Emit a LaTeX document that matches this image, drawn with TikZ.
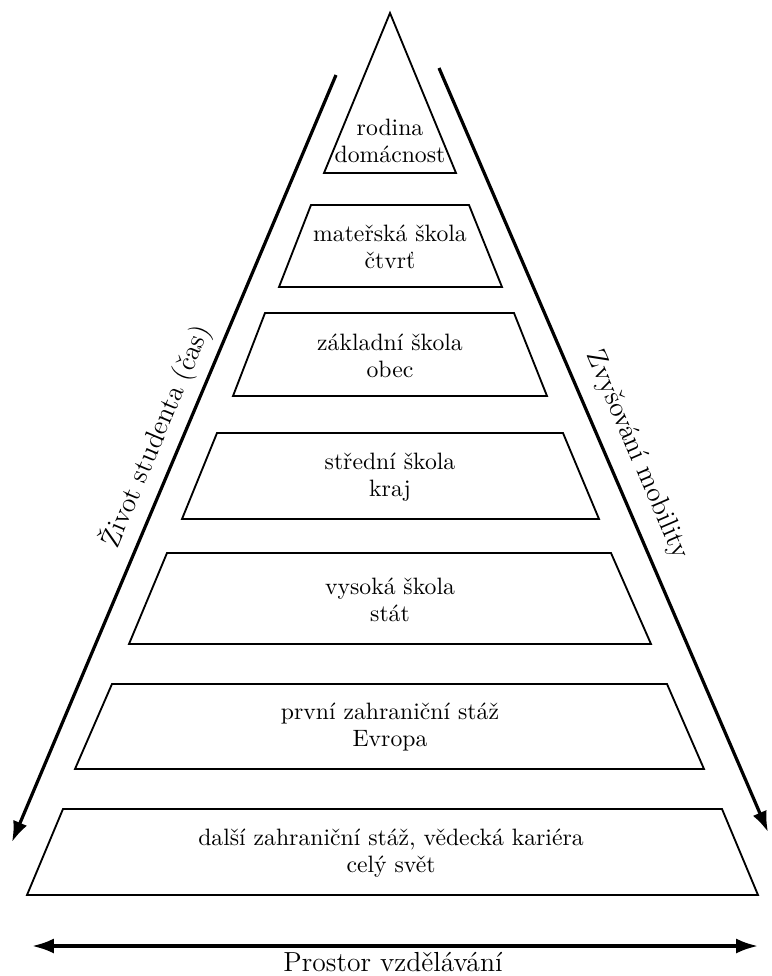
\documentclass[tikz,border=0pt]{standalone}
\usetikzlibrary{arrows.meta}
\begin{document}
\begin{tikzpicture}[x=0.4348pt,y=-0.4348pt,
  tier/.style={draw=black,line width=0.8pt,line join=miter},
  tiertext/.style={align=center,font=\fontsize{10.3}{11.8}\selectfont,text=black,inner sep=0pt},
  sidelabel/.style={font=\large,text=black,inner sep=0pt},
  bigarrow/.style={line width=1.4pt,-{Latex[length=9pt,width=6.5pt]}},
  basearrow/.style={line width=1.4pt,{Latex[length=9.5pt,width=6.5pt]}-{Latex[length=9.5pt,width=6.5pt]}}
]
\useasboundingbox (0,0) rectangle (771,976);
% tiers
\draw[tier] (390,13) -- (456,173) -- (324,173) -- cycle;
\draw[tier] (311,205) -- (469,205) -- (502,287) -- (279,287) -- cycle;
\draw[tier] (265,313) -- (514,313) -- (547,396) -- (233,396) -- cycle;
\draw[tier] (217,433) -- (563,433) -- (599,519) -- (182,519) -- cycle;
\draw[tier] (167,553) -- (611,553) -- (651,644) -- (129,644) -- cycle;
\draw[tier] (112,684) -- (667,684) -- (704,769) -- (75,769) -- cycle;
\draw[tier] (63,809) -- (722,809) -- (758,895) -- (27,895) -- cycle;
% tier texts
\node[tiertext] (t1) at (390,141) {rodina\\domácnost};
\node[tiertext] (t2) at (390,247) {mateřská škola\\čtvrť};
\node[tiertext] (t3) at (390,356) {základní škola\\obec};
\node[tiertext] (t4) at (390,477) {střední škola\\kraj};
\node[tiertext] (t5) at (390,600) {vysoká škola\\stát};
\node[tiertext] (t6) at (390,727) {první zahraniční stáž\\Evropa};
\node[tiertext] (t7) at (391,853) {další zahraniční stáž, vědecká kariéra\\celý svět};
% side arrows
\coordinate (ltop) at (336,75);
\coordinate (ltip) at (12,842);
\coordinate (rtop) at (439,68);
\coordinate (rtip) at (768,832);
\draw[bigarrow] (ltop) -- (ltip);
\draw[bigarrow] (rtop) -- (rtip);
\node[sidelabel,rotate=67.1] (life) at (156,436) {Život studenta (čas)};
\node[sidelabel,rotate=-66.7] (mob) at (637,455) {Zvyšování mobility};
% base arrow
\coordinate (bl) at (32,946);
\coordinate (br) at (758,946);
\draw[basearrow] (bl) -- (br);
\node[sidelabel,anchor=base] (space) at (393,971) {Prostor vzdělávání};
\end{tikzpicture}
\end{document}
